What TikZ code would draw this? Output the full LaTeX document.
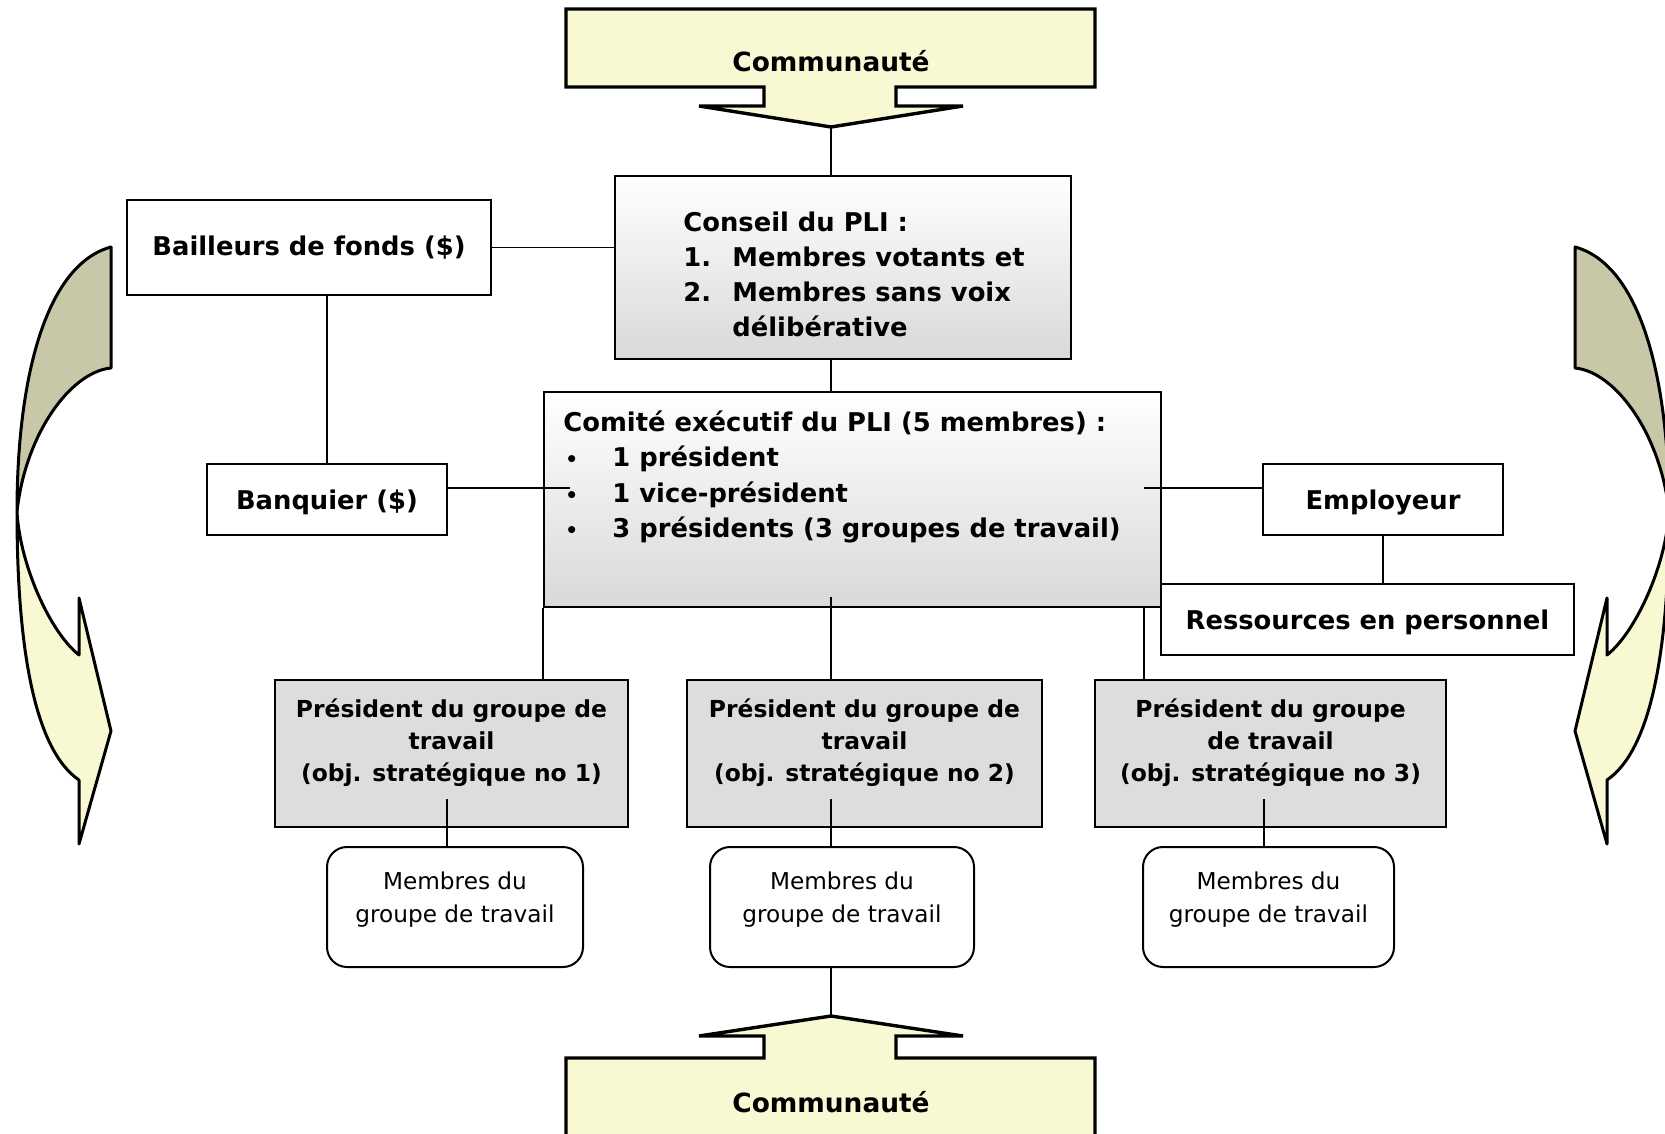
\documentclass[tikz,border=0pt]{standalone}
\usepackage{fontspec}
\setmainfont{DejaVu Sans}
\usepackage{tikz}
\definecolor{paleyellow}{RGB}{248,248,210}
\definecolor{arrowdark}{RGB}{200,200,168}
\definecolor{pboxgrey}{RGB}{221,221,221}
\newcommand{\smallbul}{\makebox[24.5pt][l]{\hspace{1pt}\fontsize{10}{10}\selectfont\textbullet}}

\begin{document}
\begin{tikzpicture}[x=0.5pt,y=-0.5pt]
\tikzstyle{every node}+=[inner sep=0pt]
\tikzstyle{whitebox}=[draw=black, line width=1pt, fill=white]
\tikzstyle{gradbox}=[draw=black, line width=1pt, top color=white, bottom color=black!15]
\tikzstyle{greybox}=[draw=black, line width=1pt, fill=pboxgrey]
\tikzstyle{roundbox}=[draw=black, line width=1pt, fill=white, rounded corners=10pt]
\tikzstyle{bigtext}=[font=\fontsize{12.9}{17.6}\selectfont\bfseries]
\tikzstyle{midtext}=[font=\fontsize{11.7}{16}\selectfont\bfseries, align=center]
\tikzstyle{smalltext}=[font=\fontsize{11.6}{16.5}\selectfont, align=center]
\tikzstyle{commtext}=[font=\fontsize{13.2}{16}\selectfont\bfseries]
\tikzstyle{link}=[line width=0.7pt]
\tikzstyle{callout}=[draw=black, line width=1.7pt, fill=paleyellow]
\tikzstyle{band}=[draw=black, line width=1.5pt, line join=round]
\clip (0,0) rectangle (1665,1134);

\path[band, fill=arrowdark] (111,247) .. controls (45,265) and (17,380) .. (17,512) .. controls (25,435) and (70,372) .. (111,368) -- cycle;
\path[band, fill=paleyellow] (17,512) .. controls (20,565) and (50,632) .. (79,655) -- (79,598) -- (111,731) -- (79,844) -- (79,780) .. controls (35,750) and (17,650) .. (17,512) -- cycle;
\begin{scope}[shift={(1686,0)}, xscale=-1]
\path[band, fill=arrowdark] (111,247) .. controls (45,265) and (17,380) .. (17,512) .. controls (25,435) and (70,372) .. (111,368) -- cycle;
\path[band, fill=paleyellow] (17,512) .. controls (20,565) and (50,632) .. (79,655) -- (79,598) -- (111,731) -- (79,844) -- (79,780) .. controls (35,750) and (17,650) .. (17,512) -- cycle;
\end{scope}

\path[callout] (566,9) -- (1095,9) -- (1095,87) -- (896,87) -- (896,106) -- (963,106) -- (831,127) -- (699,106) -- (764,106) -- (764,87) -- (566,87) -- cycle;
\coordinate (toptip) at (831,127);
\node[commtext] (commtop) at (831,61) {Communauté};
\path[callout] (566,1160) -- (566,1058) -- (764,1058) -- (764,1036) -- (699,1036) -- (831,1016) -- (963,1036) -- (896,1036) -- (896,1058) -- (1095,1058) -- (1095,1160) -- cycle;
\coordinate (bottip) at (831,1016);
\node[commtext] (commbot) at (831,1102) {Communauté};

\node[whitebox, bigtext, minimum width=182pt, minimum height=47.5pt] (bailleurs) at (309,247.5) {Bailleurs de fonds (\$)};
\node[whitebox, bigtext, minimum width=120pt, minimum height=35.5pt, text depth=0pt] (banquier) at (327,499.5) {Banquier (\$)};
\node[whitebox, bigtext, minimum width=120pt, minimum height=35.5pt, text depth=0pt] (employeur) at (1383,499.5) {Employeur};
\node[whitebox, bigtext, minimum width=206.5pt, minimum height=35.5pt, text depth=0pt] (ressources) at (1367.5,619.5) {Ressources en personnel};

\node[gradbox, minimum width=228pt, minimum height=91.5pt] (conseil) at (843,267.5) {};
\node[bigtext, align=left, anchor=west] (conseiltxt) at (683,274.5) {Conseil du PLI :\\\makebox[24.5pt][l]{1.}Membres votants et\\\makebox[24.5pt][l]{2.}Membres sans voix\\\hspace*{24.5pt}délibérative};
\node[gradbox, minimum width=308.5pt, minimum height=107.5pt] (comite) at (852.5,499.5) {};
\node[bigtext, align=left, anchor=west] (comitetxt) at (563,477) {Comité exécutif du PLI (5 membres) :\\\smallbul 1 président\\\smallbul 1 vice-président\\\smallbul 3 présidents (3 groupes de travail)};

\node[greybox, minimum width=176.5pt, minimum height=73.5pt] (p1) at (451.5,753.5) {};
\node[midtext] (p1txt) at (451.5,743) {Président du groupe de\\travail\\(obj. stratégique no 1)};
\node[greybox, minimum width=177.5pt, minimum height=73.5pt] (p2) at (864.5,753.5) {};
\node[midtext] (p2txt) at (864.5,743) {Président du groupe de\\travail\\(obj. stratégique no 2)};
\node[greybox, minimum width=175.5pt, minimum height=73.5pt] (p3) at (1270.5,753.5) {};
\node[midtext] (p3txt) at (1270.5,743) {Président du groupe\\de travail\\(obj. stratégique no 3)};

\node[roundbox, minimum width=128pt, minimum height=60pt] (m1) at (455,907) {};
\node[smalltext] (m1txt) at (455,900) {Membres du\\groupe de travail};
\node[roundbox, minimum width=132pt, minimum height=60pt] (m2) at (842,907) {};
\node[smalltext] (m2txt) at (842,900) {Membres du\\groupe de travail};
\node[roundbox, minimum width=125.5pt, minimum height=60pt] (m3) at (1268.5,907) {};
\node[smalltext] (m3txt) at (1268.5,900) {Membres du\\groupe de travail};

\coordinate (bul) at (570,488);
\coordinate (emp) at (1144,488);
\coordinate (mid) at (831,597);
\coordinate (s1) at (447,799);
\coordinate (s2) at (831,799);
\coordinate (s3) at (1264,799);
\draw[link] (toptip) -- (toptip |- conseil.north);
\draw[link] (bailleurs.east) -- (bailleurs.east -| conseil.west);
\draw[link] (banquier.north) -- (banquier.north |- bailleurs.south);
\draw[link] (banquier.east |- bul) -- (bul);
\draw[link] (toptip |- conseil.south) -- (toptip |- comite.north);
\draw[link] (emp) -- (employeur.west |- emp);
\draw[link] (employeur.south) -- (employeur.south |- ressources.north);
\draw[link] (comite.south west) -- (comite.south west |- p1.north);
\draw[link] (mid) -- (mid |- p2.north);
\draw[link] (emp |- comite.south) -- (emp |- p3.north);
\draw[link] (s1) -- (s1 |- m1.north);
\draw[link] (s2) -- (s2 |- m2.north);
\draw[link] (s3) -- (s3 |- m3.north);
\draw[link] (bottip |- m2.south) -- (bottip);
\end{tikzpicture}
\end{document}
